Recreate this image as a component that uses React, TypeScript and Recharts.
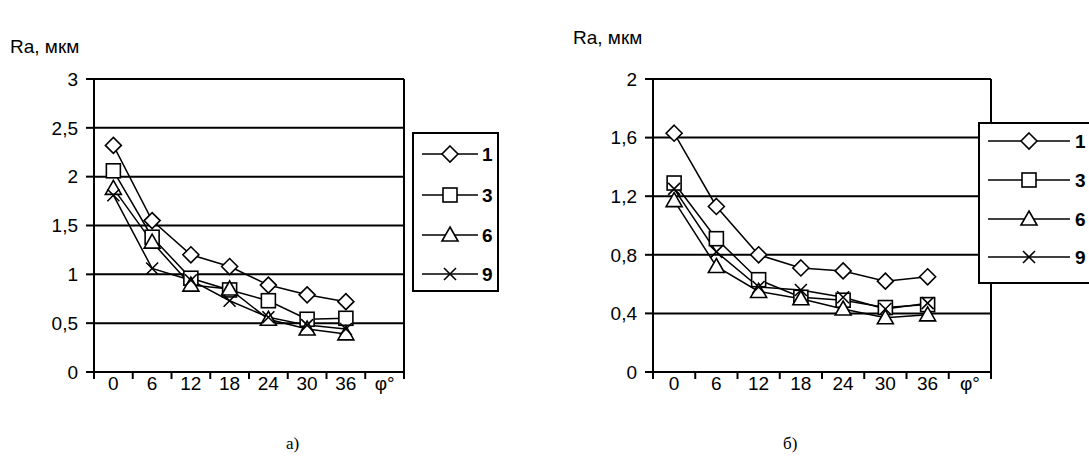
import React from 'react'
import { LineChart, Line, XAxis, YAxis, CartesianGrid, ReferenceLine } from 'recharts'

// angles (deg) on the x axis, last slot is only the axis name
const angles = ['0', '6', '12', '18', '24', '30', '36']
const axisLabels = [...angles, 'φ°']
const seriesNames = ['1', '3', '6', '9']

// chart a)
const leftS1 = [2.32, 1.55, 1.2, 1.08, 0.89, 0.79, 0.72]
const leftS3 = [2.06, 1.38, 0.96, 0.84, 0.73, 0.54, 0.55]
const leftS6 = [1.88, 1.33, 0.89, 0.85, 0.54, 0.44, 0.39]
const leftS9 = [1.81, 1.06, 0.94, 0.73, 0.56, 0.48, 0.44]
const leftTicks = [0, 0.5, 1, 1.5, 2, 2.5, 3]

// chart б)
const rightS1 = [1.63, 1.13, 0.8, 0.71, 0.69, 0.62, 0.65]
const rightS3 = [1.29, 0.91, 0.63, 0.51, 0.49, 0.44, 0.46]
const rightS6 = [1.17, 0.72, 0.55, 0.5, 0.43, 0.37, 0.39]
const rightS9 = [1.25, 0.82, 0.58, 0.56, 0.51, 0.43, 0.47]
const rightTicks = [0, 0.4, 0.8, 1.2, 1.6, 2]

const FONT = '"Liberation Sans", Arial, sans-serif'
const FS = 19
const kinds = ['diamond', 'square', 'triangle', 'cross'] as const
type Kind = typeof kinds[number]

const buildRows = (s1: number[], s3: number[], s6: number[], s9: number[]) =>
  angles.map((a, i) => ({ pos: i + 0.5, angle: a, s1: s1[i], s3: s3[i], s6: s6[i], s9: s9[i] }))

const leftData = buildRows(leftS1, leftS3, leftS6, leftS9)
const rightData = buildRows(rightS1, rightS3, rightS6, rightS9)

const Mark = ({ cx, cy, kind }: { cx: number; cy: number; kind: Kind }) => {
  const st = { fill: '#fff', stroke: '#000', strokeWidth: 1.6 }
  if (kind === 'diamond')
    return <polygon points={`${cx},${cy - 8} ${cx + 8},${cy} ${cx},${cy + 8} ${cx - 8},${cy}`} {...st} />
  if (kind === 'square') return <rect x={cx - 7} y={cy - 7} width={14} height={14} {...st} />
  if (kind === 'triangle')
    return <polygon points={`${cx},${cy - 8} ${cx + 8},${cy + 6} ${cx - 8},${cy + 6}`} {...st} />
  return (
    <g stroke="#000" strokeWidth={1.6}>
      <line x1={cx - 6} y1={cy - 6} x2={cx + 6} y2={cy + 6} />
      <line x1={cx - 6} y1={cy + 6} x2={cx + 6} y2={cy - 6} />
    </g>
  )
}

const XTick = ({ x, y, payload, band }: any) => {
  if (payload.value >= axisLabels.length) return null
  return (
    <text x={x + band / 2} y={y} dy="0.6em" textAnchor="middle" fontSize={FS} fontFamily={FONT} fill="#000">
      {axisLabels[payload.value]}
    </text>
  )
}

const fmt = (v: number) => String(v).replace('.', ',')

interface PanelProps {
  data: any[]
  ticks: number[]
  left: number
  width: number
  margin: { top: number; right: number; bottom: number; left: number }
}

function Panel({ data, ticks, left, width, margin }: PanelProps) {
  const plotW = width - margin.left - margin.right - 60
  const band = plotW / axisLabels.length
  return (
    <div style={{ position: 'absolute', left, top: 0 }}>
      <LineChart width={width} height={459} data={data} margin={margin}>
        <CartesianGrid vertical={false} stroke="#000" strokeWidth={2} />
        <ReferenceLine x={axisLabels.length} stroke="#000" strokeWidth={2} />
        <XAxis
          type="number"
          dataKey="pos"
          domain={[0, axisLabels.length]}
          ticks={axisLabels.map((_, i) => i).concat(axisLabels.length)}
          height={30}
          axisLine={{ stroke: '#000', strokeWidth: 2 }}
          tickLine={{ stroke: '#000', strokeWidth: 2 }}
          tickSize={7}
          tickMargin={0}
          tick={<XTick band={band} />}
        />
        <YAxis
          width={60}
          domain={[ticks[0], ticks[ticks.length - 1]]}
          ticks={ticks}
          tickFormatter={fmt}
          axisLine={{ stroke: '#000', strokeWidth: 2 }}
          tickLine={{ stroke: '#000', strokeWidth: 2 }}
          tickSize={8}
          tickMargin={8}
          tick={{ fill: '#000', fontSize: FS, fontFamily: FONT }}
        />
        {['s1', 's3', 's6', 's9'].map((k, si) => (
          <Line
            key={k}
            dataKey={k}
            stroke="#000"
            strokeWidth={1.5}
            isAnimationActive={false}
            activeDot={false}
            dot={(p: any) => <Mark key={`${k}-${p.index}`} cx={p.cx} cy={p.cy} kind={kinds[si]} />}
          />
        ))}
      </LineChart>
    </div>
  )
}

function LegendBox({ left, top, width, height, rows, lineX1, lineX2, labelX }: any) {
  return (
    <div
      style={{
        position: 'absolute', left, top, width, height, background: '#fff',
        border: '2px solid #000', boxSizing: 'border-box',
      }}
    >
      <svg width={width} height={height} style={{ position: 'absolute', left: -2, top: -2 }}>
        {seriesNames.map((n, i) => (
          <g key={n}>
            <line x1={lineX1} x2={lineX2} y1={rows[i]} y2={rows[i]} stroke="#000" strokeWidth={1.6} />
            <Mark cx={(lineX1 + lineX2) / 2} cy={rows[i]} kind={kinds[i]} />
            <text x={labelX} y={rows[i]} dy="0.36em" fontSize={FS} fontWeight="bold" fontFamily={FONT}>
              {n}
            </text>
          </g>
        ))}
      </svg>
    </div>
  )
}

export default function App() {
  const label = { position: 'absolute' as const, fontFamily: FONT, fontSize: FS, lineHeight: `${FS}px`, color: '#000' }
  const caption = { position: 'absolute' as const, fontFamily: '"Liberation Serif", serif', fontSize: 17, lineHeight: '17px' }
  return (
    <div style={{ position: 'absolute', left: 0, top: 0, width: 1089, height: 459, background: '#fff', overflow: 'hidden' }}>
      <Panel data={leftData} ticks={leftTicks} left={0} width={420} margin={{ top: 79, right: 16, bottom: 57, left: 34 }} />
      <Panel data={rightData} ticks={rightTicks} left={560} width={529} margin={{ top: 79, right: 98, bottom: 57, left: 33 }} />
      <LegendBox left={412} top={132} width={87} height={160} rows={[22, 63, 103, 142]} lineX1={10} lineX2={66} labelX={70} />
      <LegendBox left={978} top={122} width={120} height={162} rows={[19, 58, 97, 135]} lineX1={10} lineX2={92} labelX={97} />
      <div style={{ ...label, left: 10, top: 37 }}>Ra, мкм</div>
      <div style={{ ...label, left: 573, top: 28 }}>Ra, мкм</div>
      <div style={{ ...caption, left: 286, top: 435 }}>а)</div>
      <div style={{ ...caption, left: 783, top: 435 }}>б)</div>
    </div>
  )
}
